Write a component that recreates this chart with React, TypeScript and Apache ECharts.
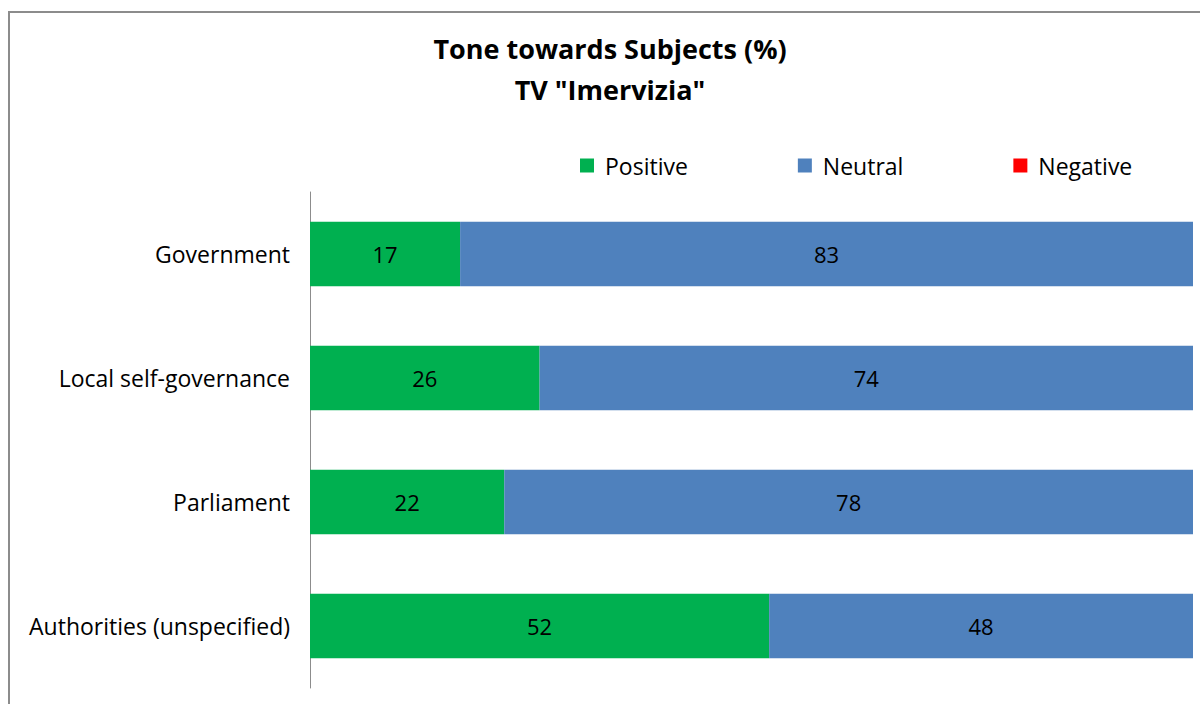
import React, { useEffect, useRef } from "react";
import * as echarts from "echarts";

const categories = ["Government", "Local self-governance", "Parliament", "Authorities (unspecified)"];
const positive = [17, 26, 22, 52];
const neutral = [83, 74, 78, 48];
const negative = [0, 0, 0, 0];
const titleLines = ["Tone towards Subjects (%)", 'TV "Imervizia"'];

const FONT = "Open Sans";

export default function App() {
  const ref = useRef<HTMLDivElement>(null);
  useEffect(() => {
    document.body.style.margin = "0";
    const chart = echarts.init(ref.current!, undefined, { renderer: "svg" });
    const label = {
      show: true,
      position: "inside",
      color: "#000",
      fontFamily: FONT,
      fontSize: 22,
      formatter: (p: any) => (p.value ? String(p.value) : ""),
    };
    chart.setOption({
      animation: false,
      backgroundColor: "#fff",
      graphic: [
        { type: "line", shape: { x1: 9, y1: 11, x2: 9, y2: 704 }, style: { stroke: "#8c8c8c", lineWidth: 2 } },
        { type: "line", shape: { x1: 8, y1: 12, x2: 1200, y2: 12 }, style: { stroke: "#8c8c8c", lineWidth: 2 } },
        {
          type: "text",
          x: 610,
          y: 48,
          style: { text: titleLines[0], textAlign: "center", textVerticalAlign: "middle", fontFamily: FONT, fontWeight: "bold", fontSize: 27, fill: "#000" },
        },
        {
          type: "text",
          x: 610,
          y: 89,
          style: { text: titleLines[1], textAlign: "center", textVerticalAlign: "middle", fontFamily: FONT, fontWeight: "bold", fontSize: 27, fill: "#000" },
        },
      ],
      legend: {
        left: 580,
        top: 154,
        padding: 0,
        itemWidth: 14,
        itemHeight: 14,
        itemGap: 110,
        icon: "rect",
        textStyle: { fontFamily: FONT, fontSize: 23, color: "#000", padding: [0, 0, 0, 6] },
        data: ["Positive", "Neutral", "Negative"],
      },
      grid: { left: 310, right: 7, top: 192, bottom: 16, containLabel: false },
      xAxis: { type: "value", min: 0, max: 100, show: false },
      yAxis: {
        type: "category",
        data: categories,
        inverse: true,
        axisLine: { show: true, lineStyle: { color: "#8c8c8c", width: 1 } },
        axisTick: { show: false },
        axisLabel: { fontFamily: FONT, fontSize: 23, color: "#000", margin: 20 },
      },
      series: [
        { name: "Positive", type: "bar", stack: "t", data: positive, barWidth: "52%", itemStyle: { color: "#00B050" }, label },
        { name: "Neutral", type: "bar", stack: "t", data: neutral, barWidth: "52%", itemStyle: { color: "#4F81BD" }, label },
        { name: "Negative", type: "bar", stack: "t", data: negative, barWidth: "52%", itemStyle: { color: "#FF0000" }, label },
      ],
    });
    return () => chart.dispose();
  }, []);
  return <div ref={ref} style={{ width: 1200, height: 704 }} />;
}
